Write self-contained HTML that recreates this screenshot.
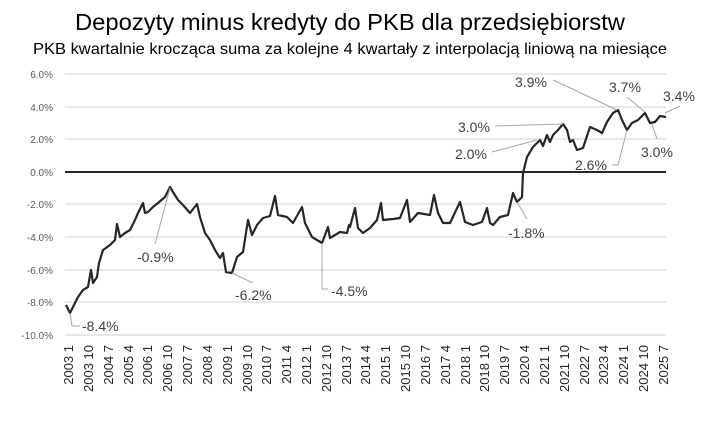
<!DOCTYPE html>
<html><head><meta charset="utf-8"><style>
body{margin:0;background:#fff}
svg{font-family:"Liberation Sans",sans-serif;display:block}
.t{fill:#595959;font-size:10px}
.a{fill:#404040;font-size:14px}
</style></head><body>
<svg width="701" height="429" viewBox="0 0 701 429">
<text x="350" y="30" text-anchor="middle" font-size="23" fill="#000" textLength="550" lengthAdjust="spacingAndGlyphs">Depozyty minus kredyty do PKB dla przedsiębiorstw</text>
<text x="350" y="54" text-anchor="middle" font-size="16" fill="#000" textLength="634" lengthAdjust="spacingAndGlyphs">PKB kwartalnie krocząca suma za kolejne 4 kwartały z interpolacją liniową na miesiące</text>
<g stroke="#d9d9d9" stroke-width="1.2">
<line x1="65" x2="666" y1="74" y2="74"/><line x1="65" x2="666" y1="107" y2="107"/><line x1="65" x2="666" y1="139" y2="139"/>
<line x1="65" x2="666" y1="204" y2="204"/><line x1="65" x2="666" y1="237" y2="237"/><line x1="65" x2="666" y1="270" y2="270"/><line x1="65" x2="666" y1="302" y2="302"/><line x1="65" x2="666" y1="335" y2="335"/>
</g>
<line x1="65" x2="666" y1="172" y2="172" stroke="#262626" stroke-width="2"/>
<g class="t" text-anchor="end">
<text x="53" y="78">6.0%</text><text x="53" y="111">4.0%</text><text x="53" y="143">2.0%</text><text x="53" y="176">0.0%</text>
<text x="53" y="208">-2.0%</text><text x="53" y="241">-4.0%</text><text x="53" y="274">-6.0%</text><text x="53" y="306">-8.0%</text><text x="53" y="339">-10.0%</text>
</g>
<polyline fill="none" stroke="#262626" stroke-width="2.2" stroke-linejoin="round" points="66,305 70,313 78,297 83,290 88,287 91,270 93,283 97,277 99,263 103,250 110,245 115,240 117,224 120,237 125,233 130,230 135,220 138,213 143,203 145,213 148,212 153,207 158,203 165,197 170,187 173,192 178,200 183,205 190,213 197,204 200,217 205,233 210,240 215,250 220,258 223,253 226,272 232,273 237,257 243,252 248,220 252,235 257,225 263,218 270,216 275,196 278,215 287,217 293,223 302,207 305,223 312,237 322,243 328,227 330,238 340,232 347,233 349,225 350,227 355,208 358,228 363,233 370,228 377,220 381,203 383,220 393,219 400,218 407,200 410,222 418,213 430,215 434,195 438,213 443,223 450,223 460,202 465,222 473,225 482,222 487,208 490,223 493,225 500,217 508,215 513,193 517,202 522,197 523,173 527,157 533,147 540,140 543,146 547,135 550,142 553,135 558,130 563,124 567,130 570,142 573,140 577,150 583,148 590,127 597,130 602,133 607,122 613,113 618,110 622,120 627,130 632,123 638,120 645,113 650,123 655,122 660,116 666,117"/>
<g stroke="#a6a6a6" stroke-width="1" fill="none">
<polyline points="70,313 72,326 80,326"/>
<line x1="170" y1="188" x2="155" y2="244"/>
<line x1="232" y1="273" x2="253" y2="283"/>
<polyline points="322,243 322,289 328,289"/>
<line x1="517" y1="202" x2="527" y2="219"/>
<line x1="492" y1="152" x2="537" y2="140"/>
<line x1="495" y1="126" x2="563" y2="124"/>
<line x1="553" y1="80" x2="617" y2="110"/>
<line x1="627" y1="97" x2="645" y2="112"/>
<line x1="665" y1="113" x2="680" y2="106"/>
<polyline points="612,165 618,165 627,130"/>
<line x1="657" y1="139" x2="652" y2="124"/>
</g>
<g class="a">
<text x="82" y="331">-8.4%</text>
<text x="137" y="262">-0.9%</text>
<text x="235" y="300">-6.2%</text>
<text x="331" y="296">-4.5%</text>
<text x="508" y="238">-1.8%</text>
<text x="455" y="159">2.0%</text>
<text x="458" y="132">3.0%</text>
<text x="515" y="87">3.9%</text>
<text x="609" y="92">3.7%</text>
<text x="663" y="101">3.4%</text>
<text x="575" y="170">2.6%</text>
<text x="641" y="157">3.0%</text>
</g>
<g font-size="13" fill="#262626">
<text transform="translate(73,345) rotate(-90)" text-anchor="end">2003 1</text>
<text transform="translate(93,345) rotate(-90)" text-anchor="end">2003 10</text>
<text transform="translate(113,345) rotate(-90)" text-anchor="end">2004 7</text>
<text transform="translate(133,345) rotate(-90)" text-anchor="end">2005 4</text>
<text transform="translate(152,345) rotate(-90)" text-anchor="end">2006 1</text>
<text transform="translate(172,345) rotate(-90)" text-anchor="end">2006 10</text>
<text transform="translate(192,345) rotate(-90)" text-anchor="end">2007 7</text>
<text transform="translate(212,345) rotate(-90)" text-anchor="end">2008 4</text>
<text transform="translate(232,345) rotate(-90)" text-anchor="end">2009 1</text>
<text transform="translate(252,345) rotate(-90)" text-anchor="end">2009 10</text>
<text transform="translate(271,345) rotate(-90)" text-anchor="end">2010 7</text>
<text transform="translate(291,345) rotate(-90)" text-anchor="end">2011 4</text>
<text transform="translate(311,345) rotate(-90)" text-anchor="end">2012 1</text>
<text transform="translate(331,345) rotate(-90)" text-anchor="end">2012 10</text>
<text transform="translate(351,345) rotate(-90)" text-anchor="end">2013 7</text>
<text transform="translate(370,345) rotate(-90)" text-anchor="end">2014 4</text>
<text transform="translate(390,345) rotate(-90)" text-anchor="end">2015 1</text>
<text transform="translate(410,345) rotate(-90)" text-anchor="end">2015 10</text>
<text transform="translate(430,345) rotate(-90)" text-anchor="end">2016 7</text>
<text transform="translate(450,345) rotate(-90)" text-anchor="end">2017 4</text>
<text transform="translate(470,345) rotate(-90)" text-anchor="end">2018 1</text>
<text transform="translate(489,345) rotate(-90)" text-anchor="end">2018 10</text>
<text transform="translate(509,345) rotate(-90)" text-anchor="end">2019 7</text>
<text transform="translate(529,345) rotate(-90)" text-anchor="end">2020 4</text>
<text transform="translate(549,345) rotate(-90)" text-anchor="end">2021 1</text>
<text transform="translate(569,345) rotate(-90)" text-anchor="end">2021 10</text>
<text transform="translate(589,345) rotate(-90)" text-anchor="end">2022 7</text>
<text transform="translate(608,345) rotate(-90)" text-anchor="end">2023 4</text>
<text transform="translate(628,345) rotate(-90)" text-anchor="end">2024 1</text>
<text transform="translate(648,345) rotate(-90)" text-anchor="end">2024 10</text>
<text transform="translate(668,345) rotate(-90)" text-anchor="end">2025 7</text>
</g>
</svg>
</body></html>
